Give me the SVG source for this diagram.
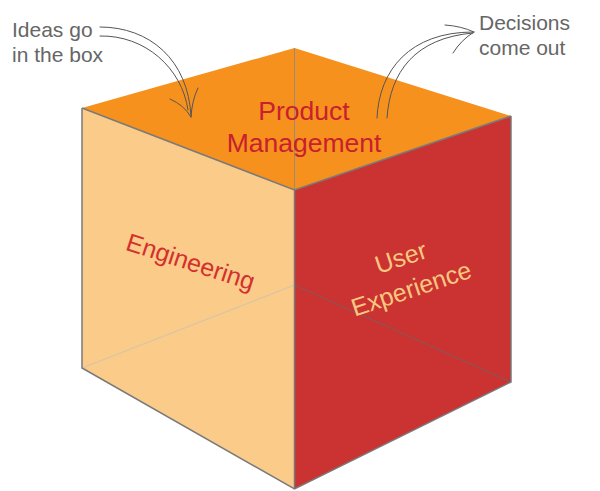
<svg xmlns="http://www.w3.org/2000/svg" width="600" height="491" viewBox="0 0 600 491">
<style>
  .note { font-family: "Liberation Sans", Arial, sans-serif; font-size: 21px; fill: #666666; }
  .lbl { font-family: "Liberation Sans", Arial, sans-serif; text-anchor: middle; }
  .edge { stroke: #7a7a7a; stroke-width: 1.5; fill: none; }
  .arrow { stroke: #555555; stroke-width: 1; fill: none; stroke-linecap: round; }
</style>
<rect width="600" height="491" fill="#ffffff"/>
<g id="cube">
  <g id="engineering">
    <polygon points="82,108 294.5,190 294.5,489 82,368" fill="#FACB89"/>
    <line x1="82" y1="368" x2="294.5" y2="285" stroke="#d9c4a8" stroke-width="1.2"/>
    <g transform="translate(188,270) rotate(18)">
      <text class="lbl" x="0" y="0" font-size="25" fill="#D4302F">Engineering</text>
    </g>
  </g>
  <g id="user-experience">
    <polygon points="294.5,190 511,116 511,382 294.5,489" fill="#CB3232"/>
    <line x1="294.5" y1="285" x2="511" y2="382" stroke="#8c5555" stroke-width="1.2"/>
    <g transform="translate(414,297) rotate(-18.5)">
      <text class="lbl" x="0" y="-33" font-size="25" fill="#F9C77F">User</text>
      <text class="lbl" x="0" y="0" font-size="25" fill="#F9C77F">Experience</text>
    </g>
  </g>
  <g id="product-management">
    <polygon points="82,108 294.5,48 511,116 294.5,190" fill="#F6911E"/>
    <line x1="294.5" y1="48" x2="294.5" y2="190" stroke="#9a8a7a" stroke-width="1"/>
    <text class="lbl" x="304" y="120" font-size="26.5" fill="#C8202F">Product</text>
    <text class="lbl" x="304" y="152" font-size="26.5" fill="#C8202F">Management</text>
  </g>
  <g id="edges">
    <polyline class="edge" points="82,108 294.5,190 511,116"/>
    <line class="edge" x1="294.5" y1="190" x2="294.5" y2="489"/>
    <polyline class="edge" points="82,108 82,368 294.5,489 511,382 511,116"/>
  </g>
</g>
<g id="note-ideas">
  <text class="note" x="12" y="37">Ideas go</text>
  <text class="note" x="12" y="62">in the box</text>
</g>
<g id="note-decisions">
  <text class="note" x="479" y="30">Decisions</text>
  <text class="note" x="479" y="55">come out</text>
</g>
<g id="connectors">
  <path class="arrow" d="M100,27 C150,27 188,60 191,116"/>
  <path class="arrow" d="M100,36 C145,35 182,68 188,110"/>
  <path class="arrow" d="M170,99 Q184,105 191,117"/>
  <path class="arrow" d="M198,88 Q192,100 191,117"/>
  <path class="arrow" d="M377,118 C379,70 410,32 473,32"/>
  <path class="arrow" d="M387,118 C390,72 415,38 473,33"/>
  <path class="arrow" d="M445,25 Q461,26 474,32"/>
  <path class="arrow" d="M453,53 Q461,40 474,32"/>
</g>
</svg>
